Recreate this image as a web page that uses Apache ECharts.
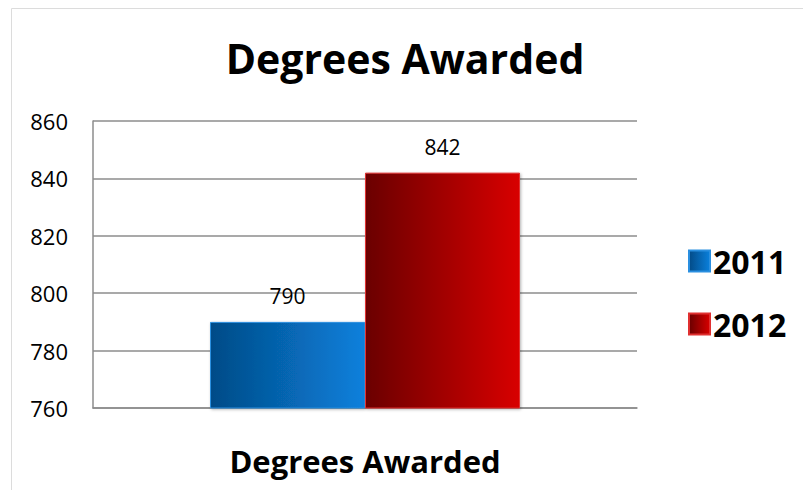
<!DOCTYPE html>
<html>
<head>
<meta charset="utf-8">
<script src="https://cdn.jsdelivr.net/npm/echarts@6/dist/echarts.min.js"></script>
<style>
  html, body { margin: 0; padding: 0; background: #fff; }
  #chart { width: 803px; height: 490px; }
</style>
</head>
<body>
<div id="chart"></div>
<script>
  var categories = ['Degrees Awarded'];
  var seriesNames = ['2011', '2012'];
  var values2011 = [790];
  var values2012 = [842];
  var yTicks = { min: 760, max: 860, interval: 20 };

  var font = '"Open Sans", "Noto Sans", sans-serif';

  function bevel(dark, light) {
    return new echarts.graphic.LinearGradient(0, 0, 1, 0, [
      { offset: 0, color: dark },
      { offset: 1, color: light }
    ]);
  }

  var chart = echarts.init(document.getElementById('chart'), null, { renderer: 'svg' });
  chart.setOption({
    animation: false,
    backgroundColor: '#fff',
    title: {
      text: 'Degrees Awarded',
      left: 400, top: 32, textAlign: 'center',
      textStyle: { fontFamily: font, fontSize: 41, fontWeight: 'bold', color: '#000' }
    },
    legend: {
      orient: 'vertical',
      left: 683, top: 240,
      icon: 'rect',
      itemWidth: 21, itemHeight: 21,
      itemGap: 31,
      data: seriesNames,
      textStyle: { fontFamily: font, fontSize: 32, fontWeight: 'bold', color: '#000', padding: [0, 0, 0, -2] }
    },
    grid: { left: 93, right: 166, top: 121, bottom: 82 },
    xAxis: {
      type: 'category',
      data: categories,
      axisLine: { lineStyle: { color: '#8c8c8c', width: 1.5 } },
      axisTick: { show: false },
      axisLabel: { fontFamily: font, fontSize: 31, fontWeight: 'bold', color: '#000', margin: 37 }
    },
    yAxis: {
      type: 'value',
      min: yTicks.min, max: yTicks.max, interval: yTicks.interval,
      axisLine: { show: true, lineStyle: { color: '#8c8c8c', width: 1.5 } },
      axisTick: { show: false },
      splitLine: { lineStyle: { color: '#8c8c8c', width: 1.5 } },
      axisLabel: { fontFamily: font, fontSize: 22, color: '#000', margin: 25 }
    },
    series: [
      {
        name: seriesNames[0],
        type: 'bar',
        data: values2011,
        barWidth: 155,
        barGap: '0%',
        itemStyle: {
          color: bevel('#034b87', '#0a80dc'),
          borderColor: '#2a8fe0', borderWidth: 1,
          shadowColor: 'rgba(0,0,0,0.3)', shadowBlur: 3, shadowOffsetX: 1, shadowOffsetY: 1
        },
        label: { show: true, position: 'top', distance: 15, fontFamily: font, fontSize: 21, color: '#000' }
      },
      {
        name: seriesNames[1],
        type: 'bar',
        data: values2012,
        barWidth: 155,
        barGap: '0%',
        itemStyle: {
          color: bevel('#6a0000', '#d80000'),
          borderColor: '#e03030', borderWidth: 1,
          shadowColor: 'rgba(0,0,0,0.3)', shadowBlur: 3, shadowOffsetX: 1, shadowOffsetY: 1
        },
        label: { show: true, position: 'top', distance: 15, fontFamily: font, fontSize: 21, color: '#000' }
      }
    ],
    graphic: [
      { type: 'line', shape: { x1: 11.5, y1: 8.5, x2: 803, y2: 8.5 }, style: { stroke: '#dcdcdc', lineWidth: 1 } },
      { type: 'line', shape: { x1: 11.5, y1: 8.5, x2: 11.5, y2: 490 }, style: { stroke: '#dcdcdc', lineWidth: 1 } }
    ]
  });
</script>
</body>
</html>
